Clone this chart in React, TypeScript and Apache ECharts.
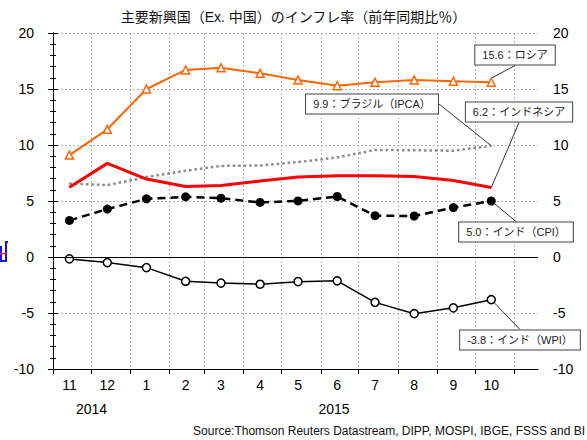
import { useEffect, useRef } from 'react';
import * as echarts from 'echarts';

const titleText = '主要新興国（Ex. 中国）のインフレ率（前年同期比％）';
const sourceText = 'Source:Thomson Reuters Datastream, DIPP, MOSPI, IBGE, FSSS and BI';

// months (year, month) of the observations
const months: [number, number][] = [
  [2014, 11], [2014, 12], [2015, 1], [2015, 2], [2015, 3], [2015, 4],
  [2015, 5], [2015, 6], [2015, 7], [2015, 8], [2015, 9], [2015, 10],
];
const monthLabels = ['11', '12', '1', '2', '3', '4', '5', '6', '7', '8', '9', '10'];
const yearLabels = ['2014', '2015'];

const russia = [9.1, 11.4, 15.0, 16.7, 16.9, 16.4, 15.8, 15.3, 15.6, 15.8, 15.7, 15.6];
const brazil = [6.56, 6.41, 7.14, 7.7, 8.13, 8.17, 8.47, 8.89, 9.56, 9.53, 9.49, 9.93];
const indonesia = [6.23, 8.36, 6.96, 6.29, 6.38, 6.79, 7.15, 7.26, 7.26, 7.18, 6.83, 6.2];
const indiaCpi = [3.27, 4.28, 5.19, 5.37, 5.25, 4.87, 5.01, 5.4, 3.69, 3.66, 4.41, 5.0];
const indiaWpi = [-0.17, -0.5, -0.95, -2.17, -2.33, -2.43, -2.2, -2.13, -4.05, -5.06, -4.54, -3.81];

const yMin = -10;
const yMax = 20;
const yStep = 5;

const FONT = "'Liberation Sans', Arial, 'Noto Sans CJK JP', sans-serif";

const DAY = 86400000;
const T0 = Date.UTC(2014, 10, 1);
const dayOf = (y: number, m: number, d: number) => (Date.UTC(y, m - 1, d) - T0) / DAY;

const xMax = dayOf(2015, 11, 20);
const pointDays = months.map(([y, m]) => dayOf(y, m, 14));
const monthStarts = Array.from({ length: 13 }, (_, i) => dayOf(2014, 11 + i, 1));
const yearBreak = dayOf(2015, 1, 1);
const yearCenters = [yearBreak / 2, (yearBreak + xMax) / 2];

const mk = (vals: number[]) =>
  vals.map((v, i) =>
    i === vals.length - 1
      ? { value: [pointDays[i], v], label: { show: true } }
      : { value: [pointDays[i], v] }
  );

const fmt = (v: number) => (Math.round(v * 10) / 10).toFixed(1);

const labelStyle = (name: string) => ({
  show: false,
  formatter: (p: any) => `${fmt(p.value[1])}：${name}`,
  fontSize: 11,
  fontFamily: FONT,
  color: '#222',
  backgroundColor: '#fff',
  borderColor: '#444',
  borderWidth: 1,
  padding: [4, 7],
  align: 'center',
  verticalAlign: 'middle',
});

const labelLine = { show: true, lineStyle: { color: '#333', width: 1 } };

const mkLayout = (cx: number, cy: number, dx: number, side: 'top' | 'bottom', gap: number) => (params: any) => {
  const r = params.rect;
  const lr = params.labelRect;
  const px0 = r.x + r.width / 2;
  const py0 = r.y + r.height / 2;
  const ex = cx + dx;
  const ey = side === 'bottom' ? cy + lr.height / 2 : cy - lr.height / 2;
  const len = Math.hypot(ex - px0, ey - py0) || 1;
  const px = px0 + ((ex - px0) / len) * gap;
  const py = py0 + ((ey - py0) / len) * gap;
  return {
    x: cx,
    y: cy,
    align: 'center',
    verticalAlign: 'middle',
    labelLinePoints: [[px, py], [(px + ex) / 2, (py + ey) / 2], [ex, ey]],
  };
};

const gridLine = { show: true, lineStyle: { color: '#b4b4b4', type: [2, 2], width: 1 } };

export default function App() {
  const ref = useRef<HTMLDivElement>(null);
  useEffect(() => {
    if (!ref.current) return;
    const chart = echarts.init(ref.current, null, { renderer: 'svg' });
    const yAxisBase = {
      type: 'value',
      min: yMin,
      max: yMax,
      interval: yStep,
      axisLine: { show: true, lineStyle: { color: '#000', width: 1 } },
      axisTick: { show: true, length: 5, lineStyle: { color: '#000' } },
      minorTick: { show: true, splitNumber: 5, length: 3, lineStyle: { color: '#000' } },
    };
    const option: any = {
      animation: false,
      textStyle: { fontFamily: FONT },
      title: {
        text: titleText,
        left: 'center',
        top: 5,
        textStyle: { fontSize: 14, fontWeight: 'normal', color: '#111', fontFamily: FONT },
      },
      grid: { left: 53, right: 49, top: 33, bottom: 71 },
      xAxis: [
        {
          type: 'value',
          min: 0,
          max: xMax,
          axisLine: { show: true, onZero: false, lineStyle: { color: '#000' } },
          axisTick: { show: true, customValues: monthStarts, length: 5, lineStyle: { color: '#000' } },
          axisLabel: {
            customValues: pointDays,
            formatter: (v: number) => {
              const i = pointDays.findIndex((d) => Math.abs(d - v) < 0.5);
              return i >= 0 ? monthLabels[i] : '';
            },
            fontSize: 14,
            color: '#000',
            margin: 9,
            fontFamily: FONT,
          },
          splitLine: gridLine,
        },
        {
          type: 'value',
          min: 0,
          max: xMax,
          position: 'bottom',
          offset: 24,
          axisLine: { show: false },
          axisTick: { show: false },
          splitLine: { show: false },
          axisLabel: {
            customValues: yearCenters,
            formatter: (v: number) => {
              const i = yearCenters.findIndex((d) => Math.abs(d - v) < 0.5);
              return i >= 0 ? yearLabels[i] : '';
            },
            fontSize: 14,
            color: '#000',
            margin: 9,
            fontFamily: FONT,
          },
        },
      ],
      yAxis: [
        {
          ...yAxisBase,
          position: 'left',
          axisLabel: { fontSize: 14, color: '#000', margin: 19, fontFamily: FONT },
          splitLine: gridLine,
        },
        {
          ...yAxisBase,
          position: 'right',
          axisLabel: { fontSize: 14, color: '#000', margin: 15, fontFamily: FONT },
          splitLine: { show: false },
        },
      ],
      series: [
        {
          name: 'ブラジル（IPCA）',
          type: 'line',
          data: mk(brazil),
          symbol: 'circle',
          symbolSize: 1,
          showSymbol: true,
          lineStyle: { color: '#8a8a8a', width: 2.5, type: [2.5, 3] },
          itemStyle: { color: '#8a8a8a' },
          label: labelStyle('ブラジル（IPCA）'),
          labelLine,
          labelLayout: mkLayout(372, 104, 36, 'bottom', 0),
          z: 2,
        },
        {
          name: 'インドネシア',
          type: 'line',
          data: mk(indonesia),
          symbol: 'circle',
          symbolSize: 1,
          showSymbol: true,
          lineStyle: { color: '#ff0000', width: 3 },
          itemStyle: { color: '#ff0000' },
          label: labelStyle('インドネシア'),
          labelLine,
          labelLayout: mkLayout(519, 112, -2, 'bottom', 0),
          z: 3,
        },
        {
          name: 'インド（CPI）',
          type: 'line',
          data: mk(indiaCpi),
          symbol: 'circle',
          symbolSize: 9,
          showSymbol: true,
          lineStyle: { color: '#000', width: 2.5, type: [8, 5] },
          itemStyle: { color: '#000' },
          label: labelStyle('インド（CPI）'),
          labelLine,
          labelLayout: mkLayout(516, 232, -6, 'top', 4),
          z: 4,
        },
        {
          name: 'インド（WPI）',
          type: 'line',
          data: mk(indiaWpi),
          symbol: 'circle',
          symbolSize: 8,
          showSymbol: true,
          lineStyle: { color: '#000', width: 1.5 },
          itemStyle: { color: '#fff', borderColor: '#000', borderWidth: 1.5 },
          label: labelStyle('インド（WPI）'),
          labelLine,
          labelLayout: mkLayout(520, 340, -8, 'top', 4),
          markLine: {
            silent: true,
            symbol: 'none',
            label: { show: false },
            lineStyle: { color: '#000', width: 1, type: 'solid' },
            data: [{ yAxis: 0 }],
          },
          z: 4,
        },
        {
          name: 'ロシア',
          type: 'line',
          data: mk(russia),
          symbol: 'triangle',
          symbolSize: 8,
          showSymbol: true,
          lineStyle: { color: '#ff6600', width: 2 },
          itemStyle: { color: '#fff', borderColor: '#ff6600', borderWidth: 1.5 },
          label: labelStyle('ロシア'),
          labelLine,
          labelLayout: mkLayout(515, 55, -9, 'bottom', 4),
          z: 5,
        },
      ],
      graphic: [
        {
          type: 'text',
          right: 2,
          bottom: 3,
          style: { text: sourceText, fontSize: 12, fill: '#111', fontFamily: FONT },
        },
        {
          type: 'polyline',
          shape: { points: [[1, 246], [1, 261], [6, 261], [6, 242], [8, 242]] },
          style: { stroke: '#1010ff', lineWidth: 2, fill: 'none' },
        },
        {
          type: 'line',
          shape: { x1: 0, y1: 254, x2: 7, y2: 253 },
          style: { stroke: '#ff2020', lineWidth: 1.5 },
        },
      ],
    };
    chart.setOption(option);
    return () => chart.dispose();
  }, []);
  return (
    <div
      ref={ref}
      style={{ position: 'fixed', left: 0, top: 0, width: 587, height: 440, background: '#fff' }}
    />
  );
}
